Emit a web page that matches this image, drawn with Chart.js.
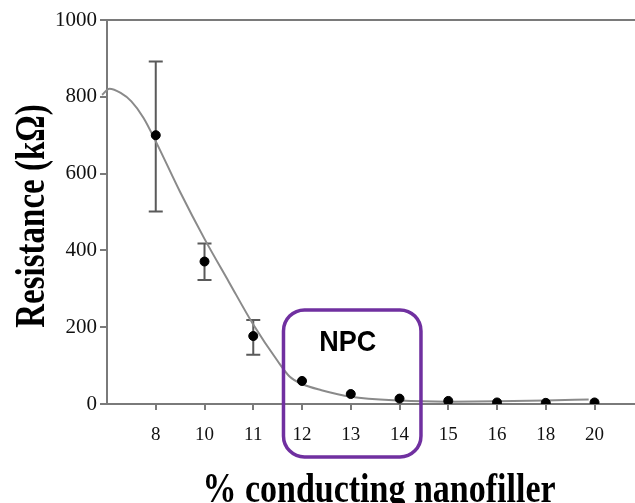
<!DOCTYPE html>
<html><head><meta charset="utf-8">
<script src="https://cdn.jsdelivr.net/npm/chart.js@4"></script>
<style>html,body{margin:0;padding:0;background:#fff;overflow:hidden}#wrap{width:635px;height:503px;position:relative}</style>
</head><body><div id="wrap"><canvas id="c"></canvas></div>
<script>
// ---- data ----
const categories = ['8','10','11','12','13','14','15','16','18','20'];
const resistance = [700, 371, 177, 60, 26, 14, 8, 4, 3, 4];
const errLow  = [501, 323, 128, null, null, null, null, null, null, null];
const errHigh = [892, 418, 219, null, null, null, null, null, null, null];
// fitted trend curve (category-index position, value)
const trendX = [-1.1, -0.95, -0.72, -0.5, -0.25, 0, 0.5, 1, 1.5, 2, 2.5, 2.75, 3, 3.4, 4, 5, 6, 7, 8, 8.88];
const trendY = [805, 821, 810, 788, 745, 684, 552, 430, 318, 207, 112, 71, 52, 36, 19, 9, 6, 7, 9, 12];
const yTicks = [0, 200, 400, 600, 800, 1000];
const npcLabel = 'NPC';
const xTitle = '% conducting nanofiller';
const yTitle = 'Resistance (k\u03A9)';

const SERIF = "'Liberation Serif', 'Times New Roman', serif";
const AXIS = '#7a7a7a';

const errorBars = {
  id: 'errorBars',
  beforeDatasetsDraw(chart) {
    const {ctx, scales: {x, y}} = chart;
    ctx.save();
    ctx.strokeStyle = '#5a5a5a';
    ctx.lineWidth = 2;
    categories.forEach((c, i) => {
      if (errLow[i] == null) return;
      const px = x.getPixelForValue(i);
      const y0 = y.getPixelForValue(errLow[i]);
      const y1 = y.getPixelForValue(errHigh[i]);
      ctx.beginPath();
      ctx.moveTo(px, y0); ctx.lineTo(px, y1);
      ctx.moveTo(px - 7, y0); ctx.lineTo(px + 7, y0);
      ctx.moveTo(px - 7, y1); ctx.lineTo(px + 7, y1);
      ctx.stroke();
    });
    ctx.restore();
  }
};

const titles = {
  id: 'titles',
  afterDraw(chart) {
    const {ctx, chartArea} = chart;
    ctx.save();
    ctx.fillStyle = '#000';
    ctx.font = 'bold 34px ' + SERIF;
    ctx.textAlign = 'center';
    ctx.textBaseline = 'alphabetic';
    // x-axis title
    ctx.save();
    ctx.translate(chartArea.left + 272, chartArea.bottom + 98);
    ctx.scale(1, 1.22);
    ctx.fillText(xTitle, 0, 0);
    ctx.restore();
    // y-axis title
    ctx.save();
    ctx.translate(chartArea.left - 63, (chartArea.top + chartArea.bottom) / 2 + 4);
    ctx.rotate(-Math.PI / 2);
    ctx.scale(1, 1.3);
    ctx.font = 'bold 33px ' + SERIF;
    ctx.fillText(yTitle, 0, 0);
    ctx.restore();
    ctx.restore();
  }
};

const npcBox = {
  id: 'npcBox',
  afterDraw(chart) {
    const {ctx, scales: {x, y}, chartArea} = chart;
    const left = x.getPixelForValue(2.62);
    const right = x.getPixelForValue(5.44);
    const top = y.getPixelForValue(245);
    const bottom = chartArea.bottom + 53;
    ctx.save();
    ctx.strokeStyle = '#7030A0';
    ctx.lineWidth = 3.5;
    ctx.beginPath();
    ctx.roundRect(left, top, right - left, bottom - top, 21);
    ctx.stroke();
    ctx.fillStyle = '#000';
    ctx.font = "bold 27px 'Liberation Sans', Arial, sans-serif";
    ctx.textAlign = 'center';
    ctx.textBaseline = 'middle';
    ctx.translate(x.getPixelForValue(3.94), y.getPixelForValue(159));
    ctx.scale(1, 1.08);
    ctx.fillText(npcLabel, 0, 0);
    ctx.restore();
  }
};

new Chart(document.getElementById('c'), {
  type: 'scatter',
  data: {
    datasets: [
      {
        label: 'Resistance',
        data: resistance.map((v, i) => ({x: i, y: v})),
        pointRadius: 4.5,
        pointHoverRadius: 4.5,
        backgroundColor: '#000',
        borderColor: '#000',
        showLine: false
      },
      {
        type: 'line',
        label: 'Trend',
        data: trendX.map((v, i) => ({x: v, y: trendY[i]})),
        borderColor: '#8a8a8a',
        borderWidth: 2,
        pointRadius: 0,
        cubicInterpolationMode: 'monotone',
        fill: false,
        clip: {left: 8, right: 0, top: 0, bottom: 0}
      }
    ]
  },
  options: {
    responsive: true,
    maintainAspectRatio: false,
    animation: false,
    layout: {autoPadding: false, padding: {top: 20, right: 0, left: 0, bottom: 0}},
    plugins: {legend: {display: false}, tooltip: {enabled: false}},
    scales: {
      x: {
        type: 'linear',
        position: 'bottom',
        min: -1,
        max: 9.83,
        afterBuildTicks: a => { a.ticks = categories.map((c, i) => ({value: i})); },
        afterFit: a => { a.height = 99; a.paddingRight = 0; a.paddingLeft = 0; },
        ticks: {
          autoSkip: false, maxRotation: 0,
          callback: v => categories[v] ?? '',
          font: {family: SERIF, size: 19},
          color: '#111',
          padding: 14
        },
        grid: {display: true, drawOnChartArea: false, tickLength: 6, color: AXIS, lineWidth: 2},
        border: {color: AXIS, width: 2},
        title: {display: false}
      },
      x2: {
        type: 'linear',
        position: 'top',
        min: -1,
        max: 9.83,
        afterFit: a => { a.height = 0; a.paddingRight = 0; a.paddingLeft = 0; },
        ticks: {display: false},
        grid: {display: false},
        border: {color: AXIS, width: 2}
      },
      y: {
        min: 0,
        max: 1000,
        afterBuildTicks: a => { a.ticks = yTicks.map(v => ({value: v})); },
        afterFit: a => { a.width = 107; },
        ticks: {
          callback: v => String(v),
          font: {family: SERIF, size: 21},
          color: '#111',
          padding: 3
        },
        grid: {display: true, drawOnChartArea: false, tickLength: 7, color: AXIS, lineWidth: 2},
        border: {color: AXIS, width: 2},
        title: {display: false}
      }
    }
  },
  plugins: [errorBars, npcBox, titles]
});
</script>
</body></html>
